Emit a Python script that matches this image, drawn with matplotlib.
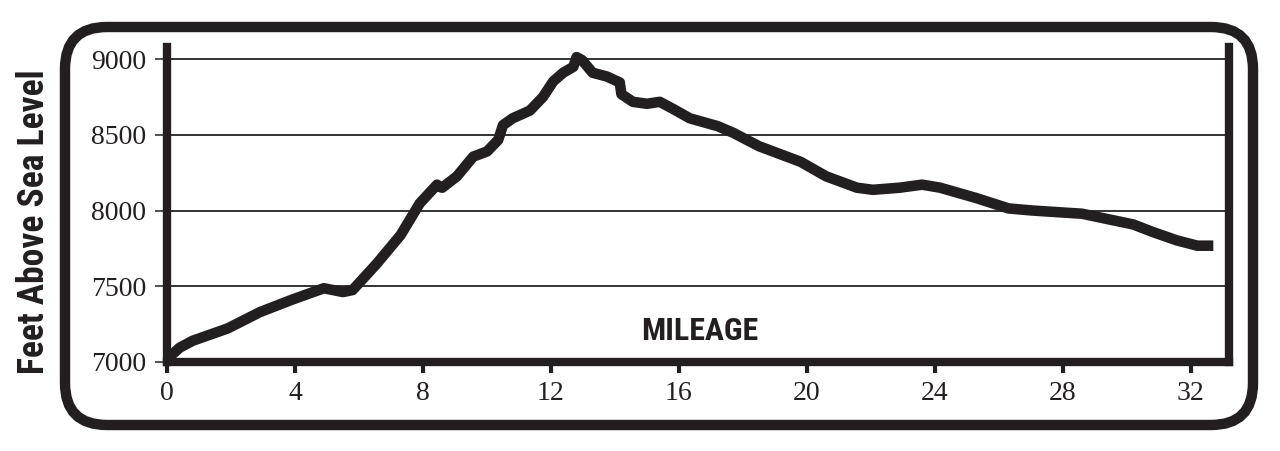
import matplotlib
matplotlib.use("Agg")
import matplotlib.pyplot as plt
from matplotlib import font_manager
from matplotlib.patches import FancyBboxPatch

# elevation profile
mileage = [0.0, 0.4, 0.8, 1.9, 2.9, 3.9, 4.9, 5.5, 5.8, 6.55, 7.3, 7.9, 8.44,
           8.45, 8.6, 9.06, 9.57, 10.0, 10.35, 10.5, 10.8, 11.34, 11.75, 12.07,
           12.38, 12.7, 12.8, 12.97, 13.3, 13.75, 14.15, 14.2, 14.56, 15.0,
           15.4, 15.8, 16.34, 17.2, 17.7, 18.5, 19.8, 20.6, 21.56, 22.06, 22.9,
           23.6, 24.16, 25.3, 26.3, 27.06, 28.6, 30.2, 30.8, 31.56, 32.2, 32.7]
elevation = [7020, 7095, 7140, 7222, 7329, 7411, 7487, 7462, 7475, 7648, 7838,
             8048, 8171, 8160, 8151, 8226, 8356, 8390, 8466, 8564, 8609, 8660,
             8750, 8853, 8910, 8949, 9013, 8994, 8910, 8885, 8846, 8769, 8718,
             8705, 8718, 8673, 8609, 8558, 8513, 8425, 8322, 8226, 8151, 8137,
             8151, 8171, 8151, 8082, 8014, 8000, 7979, 7908, 7859, 7803, 7768,
             7768]

x_ticks = [0, 4, 8, 12, 16, 20, 24, 28, 32]
y_ticks = [7000, 7500, 8000, 8500, 9000]

ink = "#231f20"
W, H = 1280, 451

# pick a narrow heavy face if one is installed
fonts = font_manager.fontManager.ttflist
names = {f.name for f in fonts}
heavy = dict(family=["Roboto", "DejaVu Sans"], fontweight="black")
for n in ["Liberation Sans Narrow", "Roboto Condensed", "DejaVu Sans Condensed"]:
    if n in names:
        heavy = dict(family=[n, "DejaVu Sans"], fontweight="bold")
        break
else:
    if any(f.name == "DejaVu Sans" and f.stretch == "condensed" for f in fonts):
        heavy = dict(family=["DejaVu Sans"], fontweight="bold",
                     fontstretch="condensed")

fig = plt.figure(figsize=(W / 100, H / 100), dpi=100)

# rounded frame drawn in pixel units on a full-figure overlay
frame = fig.add_axes([0, 0, 1, 1])
frame.set_xlim(0, W)
frame.set_ylim(H, 0)
frame.axis("off")
frame.add_patch(FancyBboxPatch((65, 27), 1188, 398,
                               boxstyle="round,pad=0,rounding_size=42",
                               fill=False, lw=7.5, ec=ink))

ax = fig.add_axes([167 / W, 1 - 362 / H, (1229 - 167) / W, 315 / H])
ax.plot(mileage, elevation, color=ink, lw=7.6, solid_capstyle="butt",
        solid_joinstyle="round", zorder=3)

ax.set_xlim(0, 33.19)
ax.set_ylim(7000, 9080)
ax.set_xticks(x_ticks)
ax.set_yticks(y_ticks)
ax.grid(axis="y", color="#333333", lw=1.4)
ax.set_axisbelow(True)

for side in ("left", "bottom", "right"):
    ax.spines[side].set_linewidth(6)
    ax.spines[side].set_color(ink)
ax.spines["top"].set_visible(False)

serif = ["Liberation Serif", "DejaVu Serif"]
ax.tick_params(axis="y", length=9, width=1.2, color="#333333", pad=6,
               labelsize=20, labelcolor=ink)
ax.tick_params(axis="x", length=8, width=3, color=ink, pad=6,
               labelsize=20, labelcolor=ink)
for lab in ax.get_xticklabels() + ax.get_yticklabels():
    lab.set_family(serif)

title = fig.text(700 / W, 1 - 331 / H, "MILEAGE", ha="center", va="center",
                 fontsize=24, color=ink, **heavy)
ylab = fig.text(34 / W, 1 - 222 / H, "Feet Above Sea Level", ha="center",
                va="center", rotation=90, fontsize=26, color=ink, **heavy)

# shrink the labels to the length they have in the picture
fig.canvas.draw()
r = fig.canvas.get_renderer()
tw = title.get_window_extent(r).width
title.set_fontsize(min(24, 24 * 117 / tw))
yh = ylab.get_window_extent(r).height
ylab.set_fontsize(min(26, 26 * 305 / yh))

fig.savefig("out.png", dpi=100)
